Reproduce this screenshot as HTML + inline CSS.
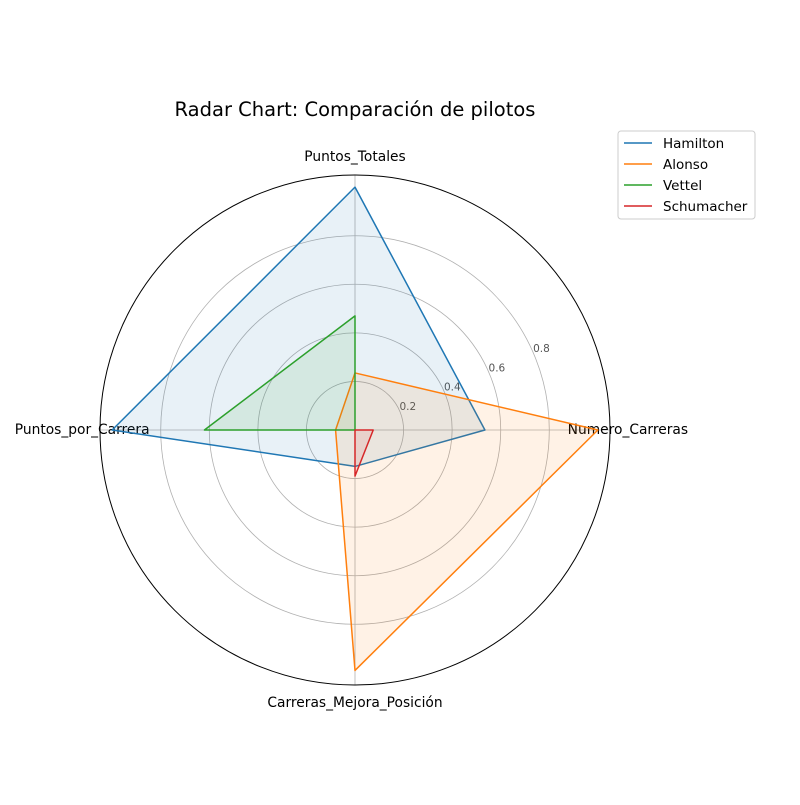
<!DOCTYPE html>
<html><head><meta charset="utf-8"><style>
body{margin:0;background:#fff;font-family:"Liberation Sans","DejaVu Sans",sans-serif}
svg text{font-family:"DejaVu Sans","Liberation Sans",sans-serif}
</style></head><body>
<svg id="chart" width="800" height="800"></svg>
<script>
const categories=["Puntos_Totales","Numero_Carreras","Carreras_Mejora_Posición","Puntos_por_Carrera"];
const seriesNames=["Hamilton","Alonso","Vettel","Schumacher"];
const hamilton=[1.0,0.535,0.15,1.0];
const alonso=[0.235,1.0,0.99,0.08];
const vettel=[0.47,0.0,0.0,0.62];
const schumacher=[0.0,0.075,0.19,0.0];
const ticks=[0.2,0.4,0.6,0.8];
const seriesData=[hamilton,alonso,vettel,schumacher];
const colors=["#1f77b4","#ff7f0e","#2ca02c","#d62728"];
const cx=355,cy=430,R=255,rmax=1.05;
const NS="http://www.w3.org/2000/svg";
const svg=document.getElementById('chart');
function rs(v){return v/rmax*R;}
function ang(i){return Math.PI/2-i*2*Math.PI/categories.length;}
function pt(i,v){const a=ang(i),r=rs(v);return [cx+r*Math.cos(a),cy-r*Math.sin(a)];}
function mk(t,attrs){const e=document.createElementNS(NS,t);for(const k in attrs)e.setAttribute(k,attrs[k]);svg.appendChild(e);return e;}
ticks.forEach((t,i)=>{
 const c=mk('circle',{cx:cx,cy:cy,r:rs(t),fill:'none',stroke:'#b0b0b0','stroke-width':0.8});
 
 
 const a=23.5*Math.PI/180,rr=rs(t)+9;
 const tx=mk('text',{x:cx+rr*Math.cos(a),y:cy-rr*Math.sin(a),'font-size':10.5,fill:'#555','text-anchor':'middle','dominant-baseline':'middle'});
 tx.textContent=t.toFixed(1);
 
 
});
categories.forEach((c,i)=>{
 const p=pt(i,rmax);
 const l=mk('line',{x1:cx,y1:cy,x2:p[0],y2:p[1],stroke:'#b0b0b0','stroke-width':0.8});
 
 
 const q=pt(i,rmax*1.07);
 const t=mk('text',{x:q[0],y:q[1],'font-size':13.8,'text-anchor':'middle','dominant-baseline':'middle',fill:'#000'});
 t.textContent=c;
 
 
});
const oc=mk('circle',{cx:cx,cy:cy,r:R,fill:'none',stroke:'#000','stroke-width':1});


seriesData.forEach((d,s)=>{
 const pts=d.map((v,i)=>pt(i,v).join(',')).join(' ');
 const f=mk('polygon',{points:pts,fill:colors[s],'fill-opacity':0.1,stroke:'none'});
 
 
 const l=mk('polygon',{points:pts,fill:'none',stroke:colors[s],'stroke-width':1.5,'stroke-linejoin':'round'});
 
 
});
const title=mk('text',{x:355,y:116,'font-size':19.5,'text-anchor':'middle',fill:'#000'});
title.textContent="Radar Chart: Comparación de pilotos";


const lb=mk('rect',{x:618,y:131,width:137,height:88,rx:3,fill:'#fff',stroke:'#ccc'});


seriesNames.forEach((n,i)=>{
 const y=143+i*21;
 const l=mk('line',{x1:624,y1:y,x2:652,y2:y,stroke:colors[i],'stroke-width':1.5});
 
 
 const t=mk('text',{x:663,y:y+5,'font-size':13.5,fill:'#000'});
 t.textContent=n;
 
 
});
</script>
</body></html>
